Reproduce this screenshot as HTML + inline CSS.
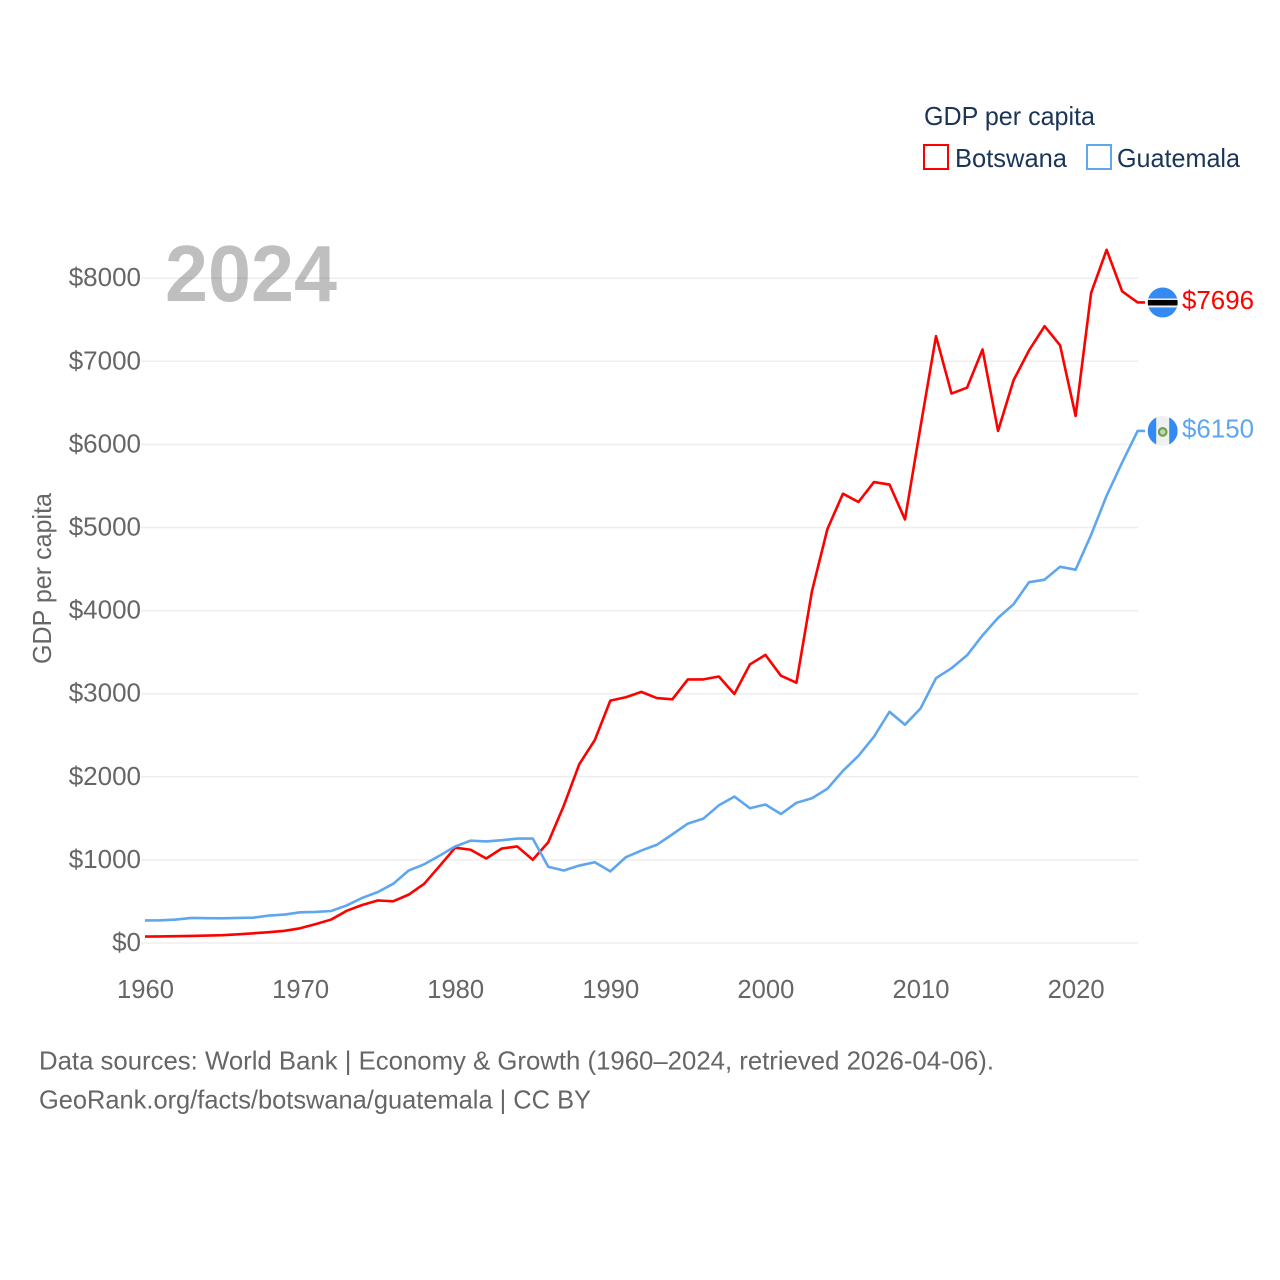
<!DOCTYPE html>
<html lang="en">
<head>
<meta charset="utf-8">
<title>GDP per capita: Botswana and Guatemala</title>
<style>
html,body{margin:0;padding:0;background:#fff;width:1280px;height:1280px;overflow:hidden}
svg{display:block}
text{font-family:"Liberation Sans",sans-serif}
</style>
</head>
<body>
<svg id="chart" xmlns="http://www.w3.org/2000/svg" width="1280" height="1280" viewBox="0 0 1280 1280">
  <rect x="0" y="0" width="1280" height="1280" fill="#ffffff"/>
  <g id="grid"></g>
  <g id="yticks"></g>
  <g id="xticks"></g>
  <text x="165" y="301" font-size="80" font-weight="700" fill="#000000" fill-opacity="0.25" textLength="172" lengthAdjust="spacingAndGlyphs">2024</text>
  <text transform="translate(51,664) rotate(-90)" font-size="26" fill="#666666" textLength="171" lengthAdjust="spacingAndGlyphs">GDP per capita</text>
  <g id="series"></g>
  <defs>
    <clipPath id="clip-bw"><circle cx="15" cy="15" r="15"/></clipPath>
    <clipPath id="clip-gt"><circle cx="15" cy="15" r="15"/></clipPath>
  </defs>
  <g id="flag-bw" clip-path="url(#clip-bw)">
    <rect x="0" y="0" width="30" height="30" fill="#338af3"/>
    <rect x="0" y="11" width="30" height="9" fill="#f0f0f0"/>
    <rect x="0" y="12.5" width="30" height="5.5" fill="#000000"/>
  </g>
  <g id="flag-gt" clip-path="url(#clip-gt)">
    <rect x="0" y="0" width="30" height="30" fill="#f0f0f0"/>
    <rect x="0" y="0" width="8.5" height="30" fill="#338af3"/>
    <rect x="21.5" y="0" width="8.5" height="30" fill="#338af3"/>
    <circle cx="15" cy="16" r="3.8" fill="#c8cfc8" stroke="#6da544" stroke-width="2.2"/>
  </g>
  <text id="label-bw" x="1182" font-size="26" fill="#ff0000" textLength="72" lengthAdjust="spacingAndGlyphs"></text>
  <text id="label-gt" x="1182" font-size="26" fill="#5ea6ee" textLength="72" lengthAdjust="spacingAndGlyphs"></text>
  <g>
    <text x="924" y="125" font-size="26" fill="#1a3556" textLength="171" lengthAdjust="spacingAndGlyphs">GDP per capita</text>
    <g>
      <rect x="924" y="145" width="24" height="24" fill="#ffffff" stroke="#ff0000" stroke-width="2"/>
      <text x="955" y="167" font-size="26" fill="#1a3556" textLength="112" lengthAdjust="spacingAndGlyphs">Botswana</text>
    </g>
    <g>
      <rect x="1087" y="145" width="24" height="24" fill="#ffffff" stroke="#5ea6ee" stroke-width="2"/>
      <text x="1117" y="167" font-size="26" fill="#1a3556" textLength="123" lengthAdjust="spacingAndGlyphs">Guatemala</text>
    </g>
  </g>
  <text x="39" y="1069.5" font-size="26" fill="#666666" textLength="955" lengthAdjust="spacingAndGlyphs">Data sources: World Bank | Economy &amp; Growth (1960–2024, retrieved 2026-04-06).</text>
  <text x="39" y="1108.5" font-size="26" fill="#666666" textLength="552" lengthAdjust="spacingAndGlyphs">GeoRank.org/facts/botswana/guatemala | CC BY</text>
</svg>
<script>
var startYear = 1960;
var xTickYears = [1960, 1970, 1980, 1990, 2000, 2010, 2020];
var yTickValues = [0, 1000, 2000, 3000, 4000, 5000, 6000, 7000, 8000];
var botswanaValues = [65, 67, 70, 73, 77, 82, 92, 105, 118, 135, 165, 215, 270, 375, 445, 500, 490, 570, 700, 915, 1135, 1110, 1005, 1125, 1150, 990, 1200, 1640, 2140, 2430, 2905, 2945, 3010, 2935, 2920, 3160, 3160, 3195, 2985, 3340, 3455, 3205, 3120, 4220, 4970, 5395, 5295, 5535, 5505, 5085, 6200, 7290, 6600, 6670, 7130, 6150, 6760, 7120, 7410, 7180, 6330, 7810, 8330, 7830, 7696];
var guatemalaValues = [260, 261, 270, 290, 287, 285, 290, 293, 318, 330, 357, 362, 373, 440, 530, 600, 700, 860, 935, 1040, 1150, 1220, 1210, 1225, 1245, 1245, 905, 860, 920, 960, 850, 1020, 1100, 1170, 1295, 1425, 1485, 1645, 1750, 1610, 1655, 1540, 1675, 1730, 1845, 2060, 2240, 2470, 2770, 2615, 2810, 3175, 3295, 3450, 3690, 3900, 4065, 4330, 4360, 4515, 4480, 4900, 5370, 5770, 6150];

var NS = 'http://www.w3.org/2000/svg';
function xScale(year) { return 145 + (year - 1960) * 15.51; }
function yScale(value) { return 943 - value * 0.0831; }
function lineY(value) { return yScale(value) - 1; }

function make(tag, attrs, parent) {
  var el = document.createElementNS(NS, tag);
  for (var k in attrs) { el.setAttribute(k, attrs[k]); }
  parent.appendChild(el);
  return el;
}

var gridGroup = document.getElementById('grid');
var yTickGroup = document.getElementById('yticks');
var xTickGroup = document.getElementById('xticks');
var seriesGroup = document.getElementById('series');

yTickValues.forEach(function (v) {
  var line = make('line', {x1: 141, x2: 1138, y1: yScale(v), y2: yScale(v), stroke: '#eeeeee', 'stroke-width': 1.5}, gridGroup);
  
  
  var label = make('text', {x: 141, y: yScale(v) + 8, 'text-anchor': 'end', 'font-size': 26, fill: '#666666'}, yTickGroup);
  label.textContent = '$' + v;
  
  
});

xTickYears.forEach(function (yr) {
  var label = make('text', {x: xScale(yr) + 0.5, y: 998, 'text-anchor': 'middle', 'font-size': 25.6, fill: '#666666'}, xTickGroup);
  label.textContent = String(yr);
  
  
});

function drawSeries(values, color, name) {
  var pts = values.map(function (v, i) {
    return xScale(startYear + i).toFixed(2) + ',' + lineY(v).toFixed(2);
  });
  pts.push('1145,' + lineY(values[values.length - 1]).toFixed(2));
  var line = make('polyline', {points: pts.join(' '), fill: 'none', stroke: color, 'stroke-width': 2.6, 'stroke-linejoin': 'round'}, seriesGroup);
  
  
}
drawSeries(botswanaValues, '#ff0000', 'botswana');
drawSeries(guatemalaValues, '#5ea6ee', 'guatemala');

function placeEnd(values, flagId, labelId) {
  var last = values[values.length - 1];
  var y = lineY(last);
  document.getElementById(flagId).setAttribute('transform', 'translate(1147.7,' + (y - 15) + ')');
  var t = document.getElementById(labelId);
  t.setAttribute('y', y + 6.5);
  t.textContent = '$' + last;
}
placeEnd(botswanaValues, 'flag-bw', 'label-bw');
placeEnd(guatemalaValues, 'flag-gt', 'label-gt');
</script>
</body>
</html>
